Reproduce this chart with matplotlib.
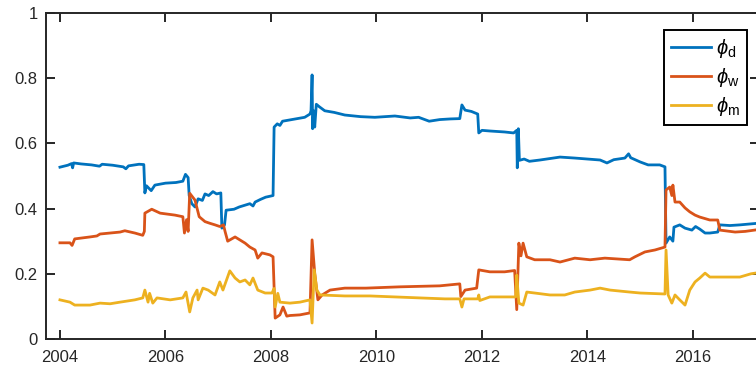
import numpy as np
import matplotlib
matplotlib.use('Agg')
import matplotlib.pyplot as plt

plt.rcParams['font.family'] = ['Liberation Sans', 'DejaVu Sans']
plt.rcParams['mathtext.fontset'] = 'custom'
plt.rcParams['mathtext.rm'] = 'Liberation Sans'
plt.rcParams['mathtext.it'] = 'Liberation Sans:italic'

# Time-varying weights of the daily / weekly / monthly components
year_d = [2004.00, 2004.15, 2004.22, 2004.24, 2004.26, 2004.40, 2004.60, 2004.75, 2004.80, 2005.00,
          2005.20, 2005.25, 2005.30, 2005.50, 2005.59, 2005.61, 2005.64, 2005.70, 2005.73, 2005.80,
          2006.00, 2006.20, 2006.33, 2006.38, 2006.43, 2006.45, 2006.50, 2006.56, 2006.62, 2006.70,
          2006.75, 2006.82, 2006.90, 2006.97, 2007.05, 2007.07, 2007.12, 2007.15, 2007.30, 2007.40,
          2007.50, 2007.60, 2007.66, 2007.70, 2007.80, 2007.90, 2008.04, 2008.06, 2008.12, 2008.17,
          2008.22, 2008.36, 2008.50, 2008.64, 2008.74, 2008.76, 2008.78, 2008.79, 2008.81, 2008.83,
          2008.86, 2008.92, 2009.02, 2009.20, 2009.40, 2009.70, 2009.97, 2010.35, 2010.64, 2010.80,
          2011.00, 2011.20, 2011.40, 2011.58, 2011.62, 2011.68, 2011.80, 2011.92, 2011.94, 2012.00,
          2012.15, 2012.43, 2012.60, 2012.66, 2012.67, 2012.69, 2012.71, 2012.80, 2012.90, 2013.10,
          2013.48, 2013.76, 2014.00, 2014.24, 2014.37, 2014.50, 2014.71, 2014.78, 2014.82, 2015.00,
          2015.15, 2015.37, 2015.47, 2015.49, 2015.56, 2015.62, 2015.64, 2015.75, 2015.85, 2015.98,
          2016.05, 2016.13, 2016.23, 2016.32, 2016.47, 2016.51, 2016.70, 2016.89, 2017.30]
phi_d = [0.527, 0.533, 0.538, 0.525, 0.540, 0.537, 0.534, 0.530, 0.536, 0.533,
         0.528, 0.522, 0.531, 0.536, 0.535, 0.448, 0.470, 0.460, 0.455, 0.472,
         0.478, 0.480, 0.484, 0.505, 0.495, 0.440, 0.415, 0.405, 0.430, 0.425,
         0.445, 0.440, 0.452, 0.445, 0.448, 0.340, 0.350, 0.395, 0.398, 0.405,
         0.410, 0.415, 0.408, 0.420, 0.428, 0.435, 0.440, 0.650, 0.660, 0.655,
         0.668, 0.672, 0.676, 0.680, 0.690, 0.700, 0.810, 0.645, 0.700, 0.650,
         0.720, 0.712, 0.700, 0.695, 0.687, 0.682, 0.680, 0.684, 0.678, 0.680,
         0.668, 0.673, 0.675, 0.676, 0.718, 0.702, 0.698, 0.690, 0.632, 0.640,
         0.638, 0.635, 0.632, 0.640, 0.525, 0.645, 0.548, 0.552, 0.545, 0.549,
         0.558, 0.555, 0.552, 0.549, 0.540, 0.550, 0.555, 0.568, 0.556, 0.543,
         0.534, 0.534, 0.528, 0.294, 0.313, 0.300, 0.343, 0.350, 0.340, 0.334,
         0.345, 0.337, 0.325, 0.325, 0.328, 0.350, 0.348, 0.350, 0.356]

year_w = [2004.00, 2004.19, 2004.23, 2004.28, 2004.57, 2004.70, 2004.76, 2004.95, 2005.14, 2005.23,
          2005.42, 2005.57, 2005.60, 2005.61, 2005.74, 2005.90, 2006.18, 2006.33, 2006.36, 2006.40,
          2006.43, 2006.46, 2006.56, 2006.64, 2006.75, 2006.84, 2006.94, 2007.03, 2007.10, 2007.13,
          2007.18, 2007.32, 2007.51, 2007.60, 2007.70, 2007.75, 2007.83, 2007.98, 2008.04, 2008.08,
          2008.17, 2008.23, 2008.30, 2008.36, 2008.55, 2008.74, 2008.78, 2008.83, 2008.89, 2008.97,
          2009.12, 2009.40, 2009.80, 2010.45, 2011.20, 2011.58, 2011.60, 2011.68, 2011.90, 2011.94,
          2012.15, 2012.43, 2012.62, 2012.66, 2012.70, 2012.74, 2012.78, 2012.85, 2013.00, 2013.29,
          2013.48, 2013.76, 2014.05, 2014.33, 2014.80, 2014.90, 2015.09, 2015.28, 2015.47, 2015.49,
          2015.56, 2015.60, 2015.62, 2015.66, 2015.75, 2015.85, 2015.94, 2016.04, 2016.13, 2016.32,
          2016.47, 2016.51, 2016.80, 2016.99, 2017.30]
phi_w = [0.295, 0.295, 0.287, 0.307, 0.313, 0.316, 0.322, 0.325, 0.328, 0.332,
         0.325, 0.318, 0.330, 0.386, 0.398, 0.386, 0.380, 0.375, 0.325, 0.366,
         0.330, 0.447, 0.426, 0.375, 0.360, 0.355, 0.350, 0.345, 0.350, 0.330,
         0.300, 0.313, 0.294, 0.282, 0.273, 0.248, 0.264, 0.258, 0.252, 0.064,
         0.074, 0.098, 0.070, 0.072, 0.074, 0.080, 0.304, 0.202, 0.120, 0.135,
         0.150, 0.156, 0.156, 0.160, 0.163, 0.169, 0.130, 0.150, 0.156, 0.212,
         0.206, 0.206, 0.210, 0.090, 0.294, 0.255, 0.294, 0.252, 0.243, 0.243,
         0.236, 0.248, 0.243, 0.248, 0.243, 0.252, 0.267, 0.273, 0.282, 0.457,
         0.466, 0.440, 0.472, 0.420, 0.420, 0.402, 0.390, 0.380, 0.374, 0.365,
         0.365, 0.334, 0.328, 0.330, 0.337]

year_m = [2004.00, 2004.19, 2004.28, 2004.57, 2004.76, 2004.95, 2005.14, 2005.42, 2005.57, 2005.61,
          2005.67, 2005.70, 2005.76, 2005.84, 2006.09, 2006.33, 2006.39, 2006.46, 2006.52, 2006.60,
          2006.62, 2006.71, 2006.81, 2006.94, 2007.03, 2007.09, 2007.22, 2007.32, 2007.41, 2007.51,
          2007.60, 2007.66, 2007.75, 2007.89, 2008.02, 2008.06, 2008.08, 2008.13, 2008.17, 2008.36,
          2008.55, 2008.74, 2008.78, 2008.82, 2008.87, 2008.93, 2009.40, 2009.88, 2010.35, 2010.82,
          2011.30, 2011.58, 2011.62, 2011.66, 2011.92, 2011.94, 2011.96, 2012.15, 2012.64, 2012.66,
          2012.70, 2012.78, 2012.85, 2013.00, 2013.29, 2013.57, 2013.76, 2014.05, 2014.24, 2014.43,
          2014.80, 2015.00, 2015.47, 2015.49, 2015.53, 2015.60, 2015.66, 2015.75, 2015.85, 2015.94,
          2016.04, 2016.13, 2016.23, 2016.32, 2016.89, 2017.10, 2017.30]
phi_m = [0.120, 0.113, 0.104, 0.104, 0.110, 0.108, 0.113, 0.120, 0.126, 0.150,
         0.113, 0.140, 0.110, 0.126, 0.120, 0.126, 0.144, 0.083, 0.126, 0.150,
         0.120, 0.156, 0.150, 0.135, 0.175, 0.150, 0.209, 0.187, 0.175, 0.181,
         0.166, 0.187, 0.150, 0.141, 0.141, 0.155, 0.098, 0.140, 0.113, 0.110,
         0.113, 0.120, 0.049, 0.212, 0.150, 0.135, 0.132, 0.132, 0.129, 0.126,
         0.123, 0.123, 0.098, 0.123, 0.123, 0.135, 0.118, 0.129, 0.129, 0.196,
         0.110, 0.104, 0.144, 0.141, 0.135, 0.135, 0.144, 0.150, 0.156, 0.150,
         0.144, 0.141, 0.138, 0.273, 0.135, 0.110, 0.135, 0.120, 0.104, 0.150,
         0.175, 0.187, 0.202, 0.190, 0.190, 0.200, 0.205]

year_ticks = [2004, 2006, 2008, 2010, 2012, 2014, 2016]
val_ticks = [0, 0.2, 0.4, 0.6, 0.8, 1]

fig = plt.figure(figsize=(7.56, 3.73), dpi=100)
ax = fig.add_axes([0.0608, 0.0912, 0.943, 0.874])

ax.plot(year_d, phi_d, color='#0072BD', lw=2.0, label=r'$\phi_{\mathrm{d}}$')
ax.plot(year_w, phi_w, color='#D95319', lw=2.0, label=r'$\phi_{\mathrm{w}}$')
ax.plot(year_m, phi_m, color='#EDB120', lw=2.0, label=r'$\phi_{\mathrm{m}}$')

ax.set_xlim(2003.735, 2017.25)
ax.set_ylim(0, 1)
ax.set_xticks(year_ticks)
ax.set_xticklabels([str(y) for y in year_ticks])
ax.set_yticks(val_ticks)
ax.set_yticklabels(['0', '0.2', '0.4', '0.6', '0.8', '1'])

dark = '#262626'
for s in ax.spines.values():
    s.set_color(dark)
    s.set_linewidth(1.4)
ax.tick_params(direction='in', length=6.5, width=1.4, colors=dark, labelsize=12,
               top=True, right=True, pad=6)
ax.tick_params(axis='x', pad=8)

leg = ax.legend(loc='upper right', bbox_to_anchor=(747 / 756, 1 - 30 / 373),
                bbox_transform=fig.transFigure, borderaxespad=0, fontsize=14.5,
                fancybox=False, handlelength=2.0, labelspacing=0.3, borderpad=0.35,
                handletextpad=0.25)
leg.get_frame().set_edgecolor('black')
leg.get_frame().set_linewidth(1.4)
leg.get_frame().set_alpha(1)

fig.savefig('out.png', dpi=100)
